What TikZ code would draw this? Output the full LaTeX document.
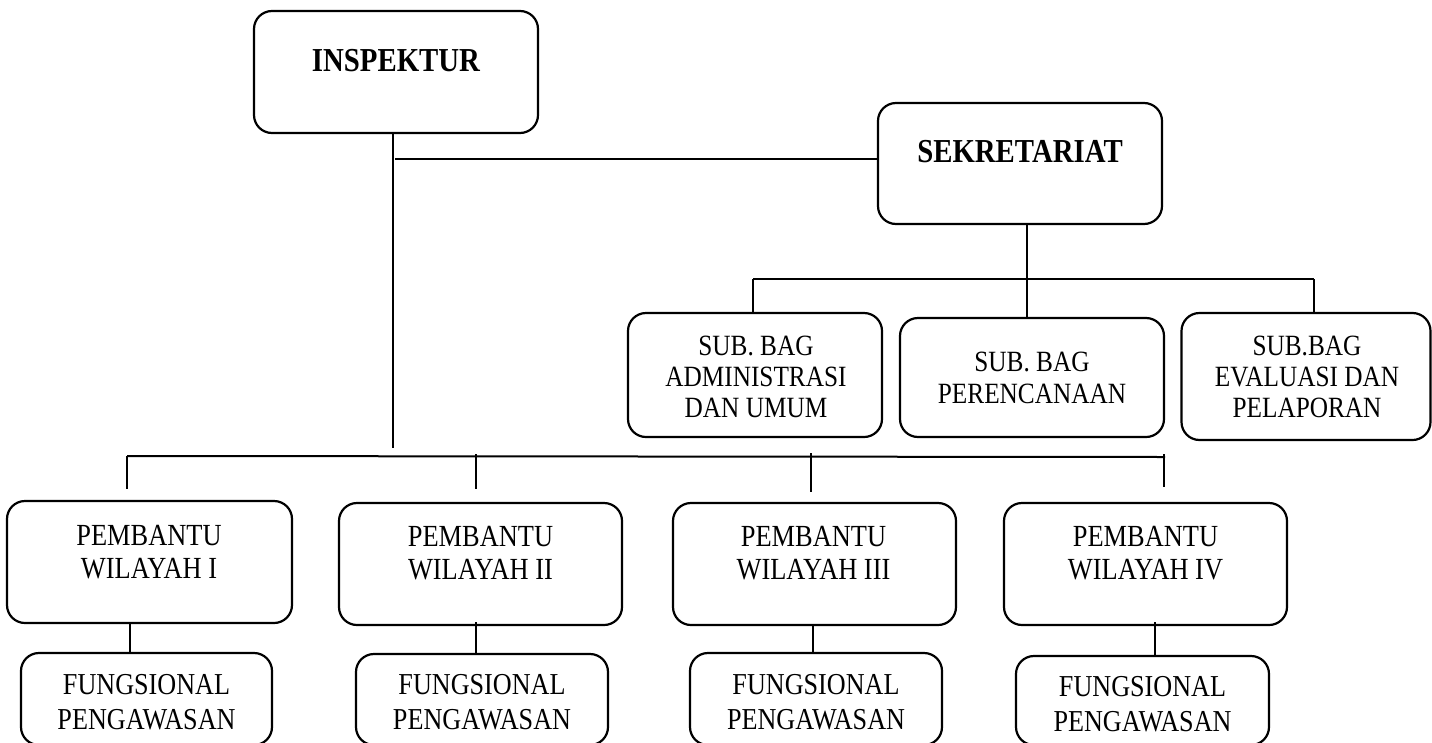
\documentclass[tikz,border=0pt]{standalone}
\usepackage{fontspec}
\setmainfont{Liberation Serif}[FakeStretch=0.86]
\begin{document}
\begin{tikzpicture}[x=1pt,y=-1pt,
  box/.style={draw=black, line width=2.2pt, rounded corners=18pt, inner sep=0pt, fill=none},
  conn/.style={draw=black, line width=2pt},
  boldtxt/.style={font={\fontsize{33.5}{37}\selectfont\bfseries}, inner sep=0pt, align=center},
  subtxt/.style={font={\fontsize{29.4}{31}\selectfont}, inner sep=0pt, align=center},
  pwtxt/.style={font={\fontsize{30.7}{33}\selectfont}, inner sep=0pt, align=center},
  fgtxt/.style={font={\fontsize{30.4}{35}\selectfont}, inner sep=0pt, align=center}]
\useasboundingbox (0,0) rectangle (1432,742);
\clip (0,0) rectangle (1432,742);

% ---- boxes ----
\node[box, minimum width=284pt, minimum height=122pt] (insp) at (396,72) {};
\node[box, minimum width=284pt, minimum height=121pt] (sek) at (1020,163.5) {};
\node[box, minimum width=254pt, minimum height=124pt] (subA) at (755,375) {};
\node[box, minimum width=264pt, minimum height=119pt] (subB) at (1032,377.5) {};
\node[box, minimum width=249pt, minimum height=127pt] (subC) at (1306,376.5) {};
\node[box, minimum width=285pt, minimum height=122pt] (pw1) at (149.5,562) {};
\node[box, minimum width=283pt, minimum height=122pt] (pw2) at (480.5,564) {};
\node[box, minimum width=283pt, minimum height=122pt] (pw3) at (814.5,564) {};
\node[box, minimum width=283pt, minimum height=122pt] (pw4) at (1145.5,564) {};
\node[box, minimum width=251pt, minimum height=92pt] (f1) at (146.5,699) {};
\node[box, minimum width=252pt, minimum height=91pt] (f2) at (482,699.5) {};
\node[box, minimum width=252pt, minimum height=92pt] (f3) at (816,699) {};
\node[box, minimum width=253pt, minimum height=89pt] (f4) at (1142.5,700.5) {};

% ---- texts ----
\node[boldtxt] (insp-t) at (396,60.5) {INSPEKTUR};
\node[boldtxt] (sek-t) at (1020,152) {SEKRETARIAT};
\node[subtxt] (subA-t) at (756,377) {SUB. BAG\\ADMINISTRASI\\DAN UMUM};
\node[subtxt, font={\fontsize{29.4}{32}\selectfont}] (subB-t) at (1032,378) {SUB. BAG\\PERENCANAAN};
\node[subtxt] (subC-t) at (1307,377) {SUB.BAG\\EVALUASI DAN\\PELAPORAN};
\node[pwtxt] (pw1-t) at (149,552.5) {PEMBANTU\\WILAYAH I};
\node[pwtxt] (pw2-t) at (480.5,553) {PEMBANTU\\WILAYAH II};
\node[pwtxt] (pw3-t) at (813.5,553) {PEMBANTU\\WILAYAH III};
\node[pwtxt] (pw4-t) at (1145.5,553) {PEMBANTU\\WILAYAH IV};
\node[fgtxt] (f1-t) at (146.5,702) {FUNGSIONAL\\PENGAWASAN};
\node[fgtxt] (f2-t) at (482,702) {FUNGSIONAL\\PENGAWASAN};
\node[fgtxt] (f3-t) at (816,702) {FUNGSIONAL\\PENGAWASAN};
\node[fgtxt] (f4-t) at (1142.5,704) {FUNGSIONAL\\PENGAWASAN};

% ---- junction coordinates ----
\coordinate (jI) at (393,448);
\coordinate (hS) at (395,159);
\coordinate (busS) at (1027,279);
\coordinate (busSL) at (753,279);
\coordinate (busSR) at (1314,279);
\coordinate (busL) at (127,456);
\coordinate (busR) at (1165,457);
\coordinate (d1) at (127,489);
\coordinate (d2) at (476,489);
\coordinate (d3) at (811,492);
\coordinate (d4) at (1164,487);

% ---- connectors ----
\draw[conn, line width=1.6pt] (insp.south -| jI) -- (jI);
\draw[conn] (hS) -- (hS -| sek.west);
\draw[conn] (sek.south -| busS) -- (subB.north -| busS);
\draw[conn] (busSL) -- (busSR);
\draw[conn] (busSL) -- (subA.north -| busSL);
\draw[conn] (busSR) -- (subC.north -| busSR);
\draw[conn] (busL) -- (busR);
\draw[conn] (d1 |- busL) -- (d1);
\draw[conn] ([yshift=2pt]d2 |- busL) -- (d2);
\draw[conn] ([yshift=3pt]d3 |- busL) -- (d3);
\draw[conn] ([yshift=2pt]d4 |- busL) -- (d4);
\draw[conn] (pw1.south -| 130,0) -- (f1.north -| 130,0);
\draw[conn] ([yshift=4pt]pw2.south -| 476,0) -- (f2.north -| 476,0);
\draw[conn] ([yshift=2pt]pw3.south -| 813,0) -- (f3.north -| 813,0);
\draw[conn] ([yshift=4pt]pw4.south -| 1155,0) -- (f4.north -| 1155,0);
\end{tikzpicture}
\end{document}
